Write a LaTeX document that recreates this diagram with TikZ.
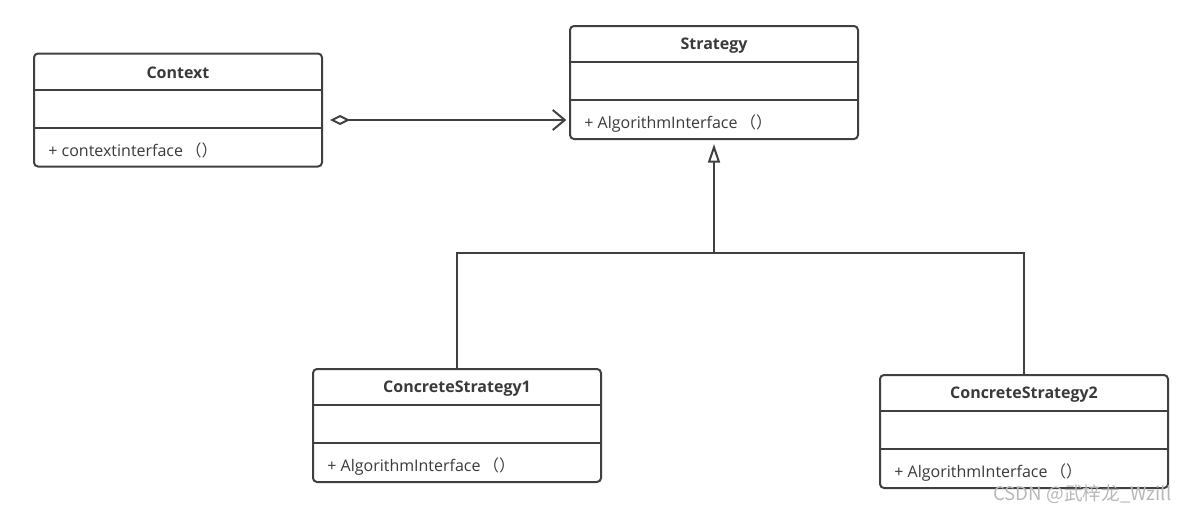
\documentclass[tikz,border=0pt]{standalone}
\usepackage{fontspec}
\setmainfont{Open Sans}
\newfontfamily\cjk{Noto Sans CJK SC}
\usetikzlibrary{arrows.meta,calc}

\definecolor{umlline}{HTML}{404040}
\definecolor{umltext}{HTML}{3A3A3A}
\definecolor{marktext}{HTML}{B8B8B8}

\newcommand{\fwparens}{\kern2pt{\cjk （）}}

\tikzset{
  classbox/.style={draw=umlline, line width=1.5pt, rounded corners=3pt,
    minimum width=216pt, minimum height=84.75pt, inner sep=0pt},
  classtitle/.style={font=\fontsize{12}{14}\selectfont\bfseries, text=umltext},
  classop/.style={font=\fontsize{12}{14}\selectfont, text=umltext, anchor=west},
  umlrule/.style={draw=umlline, line width=1.5pt},
  aggregation/.style={umlrule, {Diamond[open,length=15pt,width=7.5pt]}-{Straight Barb[length=9pt,width=15pt]}},
  realize/.style={umlrule, -{Triangle[open,length=14pt,width=9pt]}},
  watermark/.style={font=\cjk\fontsize{14}{16}\selectfont, text=marktext}
}

\begin{document}
\begin{tikzpicture}[x=0.75pt, y=-0.75pt]
  \useasboundingbox (0,0) rectangle (1190,514);

  % Classe Context en haut a gauche
  \node[classbox] (context) at (178,110) {};
  \draw[umlrule] ([yshift=-27.75pt]context.north west) -- ([yshift=-27.75pt]context.north east);
  \draw[umlrule] ([yshift=-56.25pt]context.north west) -- ([yshift=-56.25pt]context.north east);
  \node[classtitle] (contexttitle) at ([yshift=-15.5pt]context.north) {Context};
  \node[classop] (contextop) at ([xshift=8pt,yshift=12.5pt]context.south west) {+ contextinterface\fwparens};

  % Classe Strategy en haut au milieu
  \node[classbox] (strategy) at (714,82.5) {};
  \draw[umlrule] ([yshift=-27.75pt]strategy.north west) -- ([yshift=-27.75pt]strategy.north east);
  \draw[umlrule] ([yshift=-56.25pt]strategy.north west) -- ([yshift=-56.25pt]strategy.north east);
  \node[classtitle] (strategytitle) at ([yshift=-15.5pt]strategy.north) {Strategy};
  \node[classop] (strategyop) at ([xshift=8pt,yshift=12.5pt]strategy.south west) {+ AlgorithmInterface\fwparens};

  % Classe ConcreteStrategy1 en bas a gauche
  \node[classbox] (concrete1) at (457,425.5) {};
  \draw[umlrule] ([yshift=-27.75pt]concrete1.north west) -- ([yshift=-27.75pt]concrete1.north east);
  \draw[umlrule] ([yshift=-56.25pt]concrete1.north west) -- ([yshift=-56.25pt]concrete1.north east);
  \node[classtitle] (concrete1title) at ([yshift=-15.5pt]concrete1.north) {ConcreteStrategy1};
  \node[classop] (concrete1op) at ([xshift=8pt,yshift=12.5pt]concrete1.south west) {+ AlgorithmInterface\fwparens};

  % Classe ConcreteStrategy2 en bas a droite
  \node[classbox] (concrete2) at (1024,431.5) {};
  \draw[umlrule] ([yshift=-27.75pt]concrete2.north west) -- ([yshift=-27.75pt]concrete2.north east);
  \draw[umlrule] ([yshift=-56.25pt]concrete2.north west) -- ([yshift=-56.25pt]concrete2.north east);
  \node[classtitle] (concrete2title) at ([yshift=-15.5pt]concrete2.north) {ConcreteStrategy2};
  \node[classop] (concrete2op) at ([xshift=8pt,yshift=12.5pt]concrete2.south west) {+ AlgorithmInterface\fwparens};

  % Agregation Context -> Strategy
  \coordinate (aggstart) at (330,120);
  \draw[aggregation] (aggstart) -- ([xshift=-2pt]strategy.west |- aggstart);

  % Heritage des deux strategies concretes
  \coordinate (branch) at (714,253);
  \draw[umlrule] (concrete1.north) |- (branch) -| (concrete2.north);
  \draw[realize] (branch) -- ([yshift=-3pt]strategy.south);

  % Filigrane en bas a droite
  \node[watermark, anchor=east] (mark) at (1176,494) {CSDN @武梓龙\_Wzill};
\end{tikzpicture}
\end{document}
